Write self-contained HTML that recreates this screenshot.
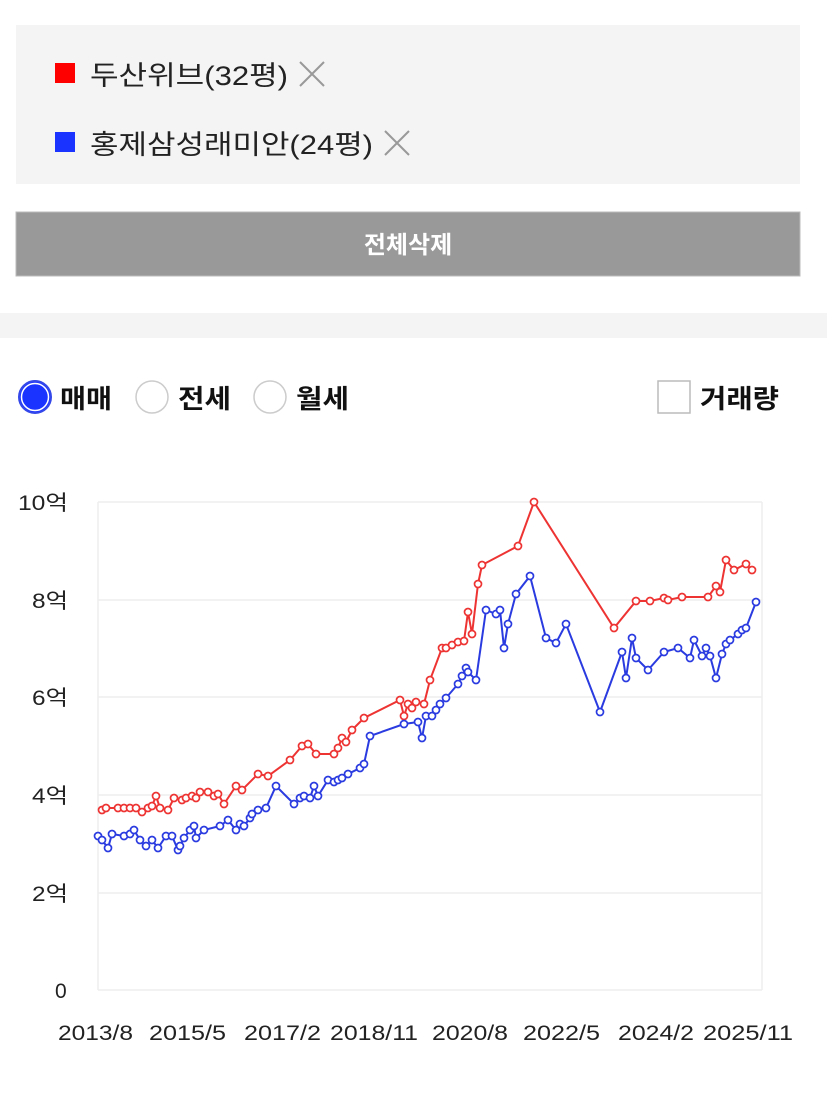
<!DOCTYPE html>
<html><head><meta charset="utf-8"><style>
body{margin:0;width:827px;height:1098px;background:#fff;overflow:hidden;font-family:"Liberation Sans","Noto Sans CJK KR",sans-serif;}
</style></head><body>
<svg width="827" height="1098" xmlns="http://www.w3.org/2000/svg" style="position:absolute;left:0;top:0;font-family:'Liberation Sans','Noto Sans CJK KR',sans-serif">
<rect x="16" y="25" width="784" height="159" fill="#f4f4f4"/>
<rect x="55" y="63" width="20" height="20" fill="#f00"/>
<text x="90" y="85" font-size="27" fill="#222" textLength="198" lengthAdjust="spacingAndGlyphs">두산위브(32평)</text>
<path d="M300 62L324 86M324 62L300 86" stroke="#999" stroke-width="2"/>
<rect x="55" y="132" width="20" height="20" fill="#1a33ff"/>
<text x="90" y="154" font-size="27" fill="#222" textLength="283" lengthAdjust="spacingAndGlyphs">홍제삼성래미안(24평)</text>
<path d="M385 131L409 155M409 131L385 155" stroke="#999" stroke-width="2"/>
<rect x="16" y="212" width="784" height="64" fill="#999"/>
<rect x="16" y="212" width="784" height="64" fill="none" stroke="#bbb" stroke-width="1"/>
<text x="408" y="253" font-size="24" font-weight="bold" fill="#fff" text-anchor="middle">전체삭제</text>
<rect x="0" y="313" width="827" height="25" fill="#f4f4f4"/>
<circle cx="35" cy="397" r="16" fill="#1a33ff" stroke="#3447e8" stroke-width="2"/>
<circle cx="35" cy="397" r="13.5" fill="none" stroke="#fff" stroke-width="1.5"/>
<text x="60" y="408" font-size="26" font-weight="bold" fill="#111" textLength="52" lengthAdjust="spacingAndGlyphs">매매</text>
<circle cx="152" cy="397" r="16" fill="#fff" stroke="#ccc" stroke-width="1.5"/>
<text x="178" y="408" font-size="26" font-weight="bold" fill="#111" textLength="53" lengthAdjust="spacingAndGlyphs">전세</text>
<circle cx="270" cy="397" r="16" fill="#fff" stroke="#ccc" stroke-width="1.5"/>
<text x="296" y="408" font-size="26" font-weight="bold" fill="#111" textLength="53" lengthAdjust="spacingAndGlyphs">월세</text>
<rect x="658" y="381" width="32" height="32" fill="#fff" stroke="#bbb" stroke-width="1.5"/>
<text x="700" y="408" font-size="26" font-weight="bold" fill="#111" textLength="79" lengthAdjust="spacingAndGlyphs">거래량</text>
<g stroke="#eee" stroke-width="1.5">
<line x1="98" y1="502" x2="762" y2="502"/><line x1="98" y1="600" x2="762" y2="600"/>
<line x1="98" y1="697" x2="762" y2="697"/><line x1="98" y1="795" x2="762" y2="795"/>
<line x1="98" y1="893" x2="762" y2="893"/><line x1="98" y1="990" x2="762" y2="990"/>
<line x1="98" y1="502" x2="98" y2="990"/><line x1="762" y1="502" x2="762" y2="990"/>
</g>
<g font-size="21" fill="#222">
<text x="18" y="510" textLength="50" lengthAdjust="spacingAndGlyphs">10억</text>
<text x="32" y="608" textLength="36" lengthAdjust="spacingAndGlyphs">8억</text>
<text x="32" y="705" textLength="36" lengthAdjust="spacingAndGlyphs">6억</text>
<text x="32" y="803" textLength="36" lengthAdjust="spacingAndGlyphs">4억</text>
<text x="32" y="901" textLength="36" lengthAdjust="spacingAndGlyphs">2억</text>
<text x="55" y="998">0</text>
</g>
<g font-size="21" fill="#222">
<text x="58" y="1040" textLength="75" lengthAdjust="spacingAndGlyphs">2013/8</text>
<text x="149" y="1040" textLength="77" lengthAdjust="spacingAndGlyphs">2015/5</text>
<text x="244" y="1040" textLength="77" lengthAdjust="spacingAndGlyphs">2017/2</text>
<text x="330" y="1040" textLength="88" lengthAdjust="spacingAndGlyphs">2018/11</text>
<text x="432" y="1040" textLength="76" lengthAdjust="spacingAndGlyphs">2020/8</text>
<text x="523" y="1040" textLength="77" lengthAdjust="spacingAndGlyphs">2022/5</text>
<text x="618" y="1040" textLength="76" lengthAdjust="spacingAndGlyphs">2024/2</text>
<text x="703" y="1040" textLength="90" lengthAdjust="spacingAndGlyphs">2025/11</text>
</g>
<g id="r"></g><g id="b"></g>
</svg>
<script>
var R=[[102,810],[106,808],[118,808],[124,808],[130,808],[136,808],[142,812],[148,808],[152,806],[156,796],[160,808],[168,810],[174,798],[182,800],[186,798],[192,796],[196,798],[200,792],[208,792],[214,796],[218,794],[224,804],[236,786],[242,790],[258,774],[268,776],[290,760],[302,746],[308,744],[316,754],[334,754],[338,748],[342,738],[346,742],[352,730],[364,718],[400,700],[404,716],[408,704],[412,708],[416,702],[424,704],[430,680],[442,648],[446,648],[452,645],[458,642],[464,641],[468,612],[472,634],[478,584],[482,565],[518,546],[534,502],[614,628],[636,601],[650,601],[664,598],[668,600],[682,597],[708,597],[716,586],[720,592],[726,560],[734,570],[746,564],[752,570]];
var B=[[98,836],[102,840],[108,848],[112,834],[124,836],[130,834],[134,830],[140,840],[146,846],[152,840],[158,848],[166,836],[172,836],[178,850],[180,846],[184,838],[190,830],[194,826],[196,838],[204,830],[220,826],[228,820],[236,830],[240,824],[244,826],[250,818],[252,814],[258,810],[266,808],[276,786],[294,804],[300,798],[304,796],[310,798],[314,786],[318,796],[328,780],[334,782],[338,780],[342,778],[348,774],[360,768],[364,764],[370,736],[404,724],[418,722],[422,738],[426,716],[432,716],[436,710],[440,704],[446,698],[458,684],[462,676],[466,668],[468,672],[476,680],[486,610],[496,614],[500,610],[504,648],[508,624],[516,594],[530,576],[546,638],[556,643],[566,624],[600,712],[622,652],[626,678],[632,638],[636,658],[648,670],[664,652],[678,648],[690,658],[694,640],[702,656],[706,648],[710,656],[716,678],[722,654],[726,644],[730,640],[738,634],[742,630],[746,628],[756,602]];
function draw(id,P,c){var g=document.getElementById(id),s='<polyline fill="none" stroke="'+c+'" stroke-width="2" points="'+P.map(function(p){return p.join(',')}).join(' ')+'"/>';
P.forEach(function(p){s+='<circle cx="'+p[0]+'" cy="'+p[1]+'" r="3.5" fill="#fff" stroke="'+c+'" stroke-width="1.7"/>';});g.innerHTML=s;}
draw('r',R,'#ee3333');draw('b',B,'#2a3be0');
</script>
</body></html>
